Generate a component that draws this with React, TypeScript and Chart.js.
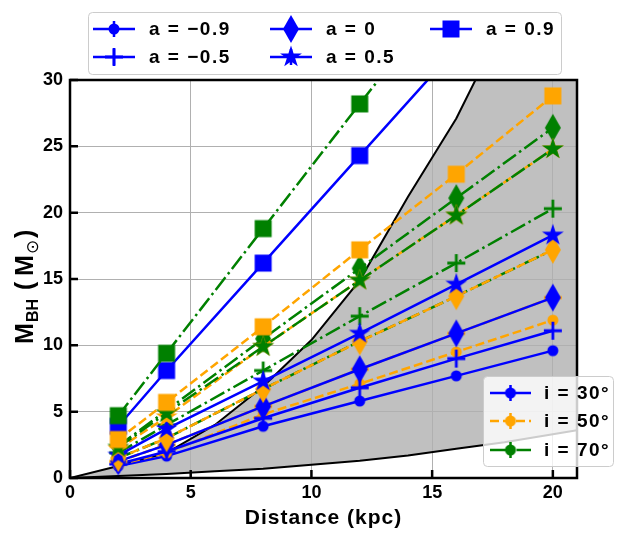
import React, { useEffect, useRef } from 'react';
import Chart from 'chart.js/auto';

// distances (kpc) at which the masses were computed
const distances = [2, 4, 8, 12, 16, 20];
const spinLabels = ['−0.9', '−0.5', '0', '0.5', '0.9'];
const inclinationLabels = ['30°', '50°', '70°'];

// M_BH rows per spin: a = -0.9, -0.5, 0, 0.5, 0.9
const massI30 = [
  [0.9, 1.65, 3.9, 5.8, 7.7, 9.6],
  [1.05, 2.0, 4.5, 6.8, 9.0, 11.1],
  [1.25, 2.5, 5.4, 8.2, 10.9, 13.6],
  [1.7, 3.7, 7.3, 10.9, 14.6, 18.3],
  [3.9, 8.1, 16.2, 24.3, 32.4, 40.5],
];
const massI50 = [
  [1.0, 1.9, 4.8, 7.1, 9.5, 11.9],
  [1.25, 2.5, 5.4, 8.2, 10.9, 13.6],
  [1.5, 3.0, 6.7, 10.3, 13.7, 17.2],
  [2.2, 4.6, 9.9, 14.9, 19.8, 24.8],
  [2.9, 5.7, 11.4, 17.2, 22.9, 28.8],
];
const massI70 = [
  [1.5, 3.0, 6.7, 10.3, 13.7, 17.2],
  [1.9, 4.0, 8.1, 12.2, 16.2, 20.3],
  [2.4, 5.1, 10.5, 15.8, 21.1, 26.4],
  [2.3, 4.9, 9.9, 14.9, 19.8, 24.8],
  [4.7, 9.4, 18.8, 28.2, 37.5, 46.9],
];

// allowed region (grey band)
const boundDist = [0, 2, 4, 6, 8, 10, 12, 14, 16, 18, 20, 21];
const upperBound = [0, 0.9, 1.9, 4.0, 6.9, 10.4, 14.9, 21.2, 27.1, 34.4, 41.7, 45.4];
const lowerBound = [0, 0.15, 0.3, 0.5, 0.7, 1.0, 1.3, 1.7, 2.2, 2.7, 3.3, 3.6];

const xTickValues = [0, 5, 10, 15, 20];
const yTickValues = [0, 5, 10, 15, 20, 25, 30];

const colors = ['#0000ff', '#ffa500', '#008000'];
const dashes = [[], [9, 4], [16, 4, 2.5, 4]];
const shapes = ['circle', 'plus', 'thinDiamond', 'star', 'square'];

function makeMarker(shape: string, color: string): HTMLCanvasElement {
  const c = document.createElement('canvas');
  c.width = 32;
  c.height = 32;
  const g = c.getContext('2d')!;
  g.fillStyle = color;
  g.strokeStyle = color;
  g.translate(16, 16);
  if (shape === 'circle') {
    g.beginPath();
    g.arc(0, 0, 5.5, 0, Math.PI * 2);
    g.fill();
  } else if (shape === 'plus') {
    g.lineWidth = 2.8;
    g.beginPath();
    g.moveTo(-9, 0); g.lineTo(9, 0);
    g.moveTo(0, -9); g.lineTo(0, 9);
    g.stroke();
  } else if (shape === 'thinDiamond') {
    g.beginPath();
    g.moveTo(0, -14); g.lineTo(8, 0); g.lineTo(0, 14); g.lineTo(-8, 0);
    g.closePath();
    g.fill();
  } else if (shape === 'star') {
    const R = 11.5, r = R * 0.382;
    g.beginPath();
    for (let k = 0; k < 10; k++) {
      const rad = k % 2 === 0 ? R : r;
      const ang = -Math.PI / 2 + (k * Math.PI) / 5;
      const px = rad * Math.cos(ang), py = rad * Math.sin(ang);
      if (k === 0) g.moveTo(px, py); else g.lineTo(px, py);
    }
    g.closePath();
    g.fill();
  } else {
    g.fillRect(-8.5, -8.5, 17, 17);
  }
  return c;
}

function roundBox(ctx: CanvasRenderingContext2D, x: number, y: number, w: number, h: number) {
  ctx.beginPath();
  ctx.roundRect(x, y, w, h, 4);
  ctx.fillStyle = 'rgba(255,255,255,0.8)';
  ctx.fill();
  ctx.strokeStyle = '#cccccc';
  ctx.lineWidth = 1;
  ctx.stroke();
}

function drawHandle(ctx: CanvasRenderingContext2D, x1: number, x2: number, y: number, color: string, dash: number[], marker: HTMLCanvasElement) {
  const cx = (x1 + x2) / 2;
  ctx.strokeStyle = color;
  ctx.lineWidth = 2.5;
  ctx.setLineDash(dash);
  ctx.beginPath();
  ctx.moveTo(x1, y); ctx.lineTo(x2, y);
  ctx.stroke();
  ctx.setLineDash([]);
  ctx.beginPath();
  ctx.moveTo(cx, y - 8); ctx.lineTo(cx, y + 8);
  ctx.stroke();
  ctx.drawImage(marker, cx - marker.width / 2, y - marker.height / 2);
}

const App: React.FC = () => {
  const canvasRef = useRef<HTMLCanvasElement>(null);
  const chartRef = useRef<Chart | null>(null);

  useEffect(() => {
    if (!canvasRef.current) return;
    if (chartRef.current) chartRef.current.destroy();

    const markers = colors.map(col => shapes.map(s => makeMarker(s, col)));
    const series = [massI30, massI50, massI70];

    const datasets: any[] = [
      {
        label: 'upper',
        data: boundDist.map((d, k) => ({ x: d, y: upperBound[k] })),
        borderColor: '#000', borderWidth: 2, pointRadius: 0,
        fill: '+1', backgroundColor: '#c0c0c0', order: 1000, clip: 0,
      },
      {
        label: 'lower',
        data: boundDist.map((d, k) => ({ x: d, y: lowerBound[k] })),
        borderColor: '#000', borderWidth: 2, pointRadius: 0,
        fill: false, order: 999, clip: 0,
      },
    ];
    // drawn spin by spin, inclinations inside
    let seq = 0;
    spinLabels.forEach((_, a) => {
      series.forEach((rows, i) => {
        datasets.push({
          label: `a${a}i${i}`,
          data: distances.map((d, k) => ({ x: d, y: rows[a][k] })),
          borderColor: colors[i], borderWidth: 2.5, borderDash: dashes[i],
          pointStyle: markers[i][a], pointRadius: 9, pointHoverRadius: 9,
          fill: false, tension: 0, clip: 0, order: 100 - seq,
        });
        seq++;
      });
    });

    const tickFont = { family: 'Liberation Sans', weight: 'bold' as const, size: 18 };

    const decor = {
      id: 'decor',
      afterDraw(chart: Chart) {
        const { ctx, chartArea: ar, scales } = chart;
        const xs = scales.x, ys = scales.y;
        ctx.save();
        ctx.strokeStyle = '#000';
        ctx.lineWidth = 2.5;
        ctx.strokeRect(ar.left, ar.top, ar.right - ar.left, ar.bottom - ar.top);
        ctx.beginPath();
        xTickValues.forEach(v => {
          const px = xs.getPixelForValue(v);
          ctx.moveTo(px, ar.bottom); ctx.lineTo(px, ar.bottom - 8);
        });
        yTickValues.forEach(v => {
          const py = ys.getPixelForValue(v);
          ctx.moveTo(ar.left, py); ctx.lineTo(ar.left + 8, py);
        });
        ctx.stroke();

        // axis titles
        ctx.fillStyle = '#000';
        ctx.textBaseline = 'alphabetic';
        ctx.textAlign = 'center';
        (ctx as any).letterSpacing = '1px';
        ctx.font = 'bold 21px "Liberation Sans"';
        ctx.fillText('Distance (kpc)', (ar.left + ar.right) / 2, 524);
        (ctx as any).letterSpacing = '0px';

        ctx.save();
        ctx.translate(33, 344);
        ctx.rotate(-Math.PI / 2);
        ctx.textAlign = 'left';
        ctx.font = 'bold 25px "Liberation Sans"';
        ctx.fillText('M', 0, 0);
        ctx.font = 'bold 16px "Liberation Sans"';
        ctx.fillText('BH', 22, 5);
        ctx.font = 'bold 25px "Liberation Sans"';
        ctx.fillText('(', 54, 0);
        ctx.fillText('M', 68, 0);
        ctx.font = '17px "DejaVu Sans"';
        ctx.fillText('⊙', 90, 5);
        ctx.font = 'bold 25px "Liberation Sans"';
        ctx.fillText(')', 106, 0);
        ctx.restore();

        // spin legend
        roundBox(ctx, 88.5, 12.5, 473, 62);
        const rowY = [29, 57];
        const colX = [93, 270, 430];
        ctx.font = 'bold 19px "Liberation Sans"';
        (ctx as any).letterSpacing = '1.5px';
        ctx.textAlign = 'left';
        ctx.textBaseline = 'middle';
        spinLabels.forEach((lab, a) => {
          const col = Math.floor(a / 2), row = a % 2;
          drawHandle(ctx, colX[col], colX[col] + 42, rowY[row], colors[0], [], markers[0][a]);
          ctx.fillStyle = '#000';
          ctx.fillText(`a = ${lab}`, colX[col] + 56, rowY[row] + 1);
        });

        // inclination legend
        roundBox(ctx, 483.5, 376.5, 130, 90);
        const incY = [393, 421, 450];
        inclinationLabels.forEach((lab, i) => {
          drawHandle(ctx, 490, 531, incY[i], colors[i], dashes[i], markers[i][0]);
          ctx.fillStyle = '#000';
          ctx.fillText(`i = ${lab}`, 544, incY[i] + 1);
        });
        (ctx as any).letterSpacing = '0px';
        ctx.restore();
      },
    };

    chartRef.current = new Chart(canvasRef.current, {
      type: 'line',
      data: { datasets },
      plugins: [decor],
      options: {
        responsive: false,
        animation: false,
        events: [],
        layout: { padding: { left: 8, right: 63, top: 80, bottom: 0 } },
        plugins: {
          legend: { display: false },
          tooltip: { enabled: false },
          filler: { drawTime: 'beforeDraw' },
        },
        scales: {
          x: {
            type: 'linear', min: 0, max: 21,
            afterBuildTicks: (s: any) => { s.ticks = xTickValues.map(v => ({ value: v })); },
            afterFit: (s: any) => { s.height = 59; },
            grid: { color: '#b0b0b0', lineWidth: 1, drawTicks: false },
            border: { display: false },
            ticks: { color: '#000', font: tickFont, padding: 4, maxRotation: 0, autoSkip: false, callback: (v: any) => String(v) },
          },
          y: {
            type: 'linear', min: 0, max: 30,
            afterBuildTicks: (s: any) => { s.ticks = yTickValues.map(v => ({ value: v })); },
            afterFit: (s: any) => { s.width = 62; },
            grid: { color: '#b0b0b0', lineWidth: 1, drawTicks: false },
            border: { display: false },
            ticks: { color: '#000', font: tickFont, padding: 7, autoSkip: false, callback: (v: any) => String(v) },
          },
        },
      } as any,
    });

    return () => {
      if (chartRef.current) {
        chartRef.current.destroy();
        chartRef.current = null;
      }
    };
  }, []);

  return (
    <div style={{ position: 'absolute', left: 0, top: 0, width: 640, height: 537, background: '#fff' }}>
      <canvas ref={canvasRef} width={640} height={537}></canvas>
    </div>
  );
};

export default App;
